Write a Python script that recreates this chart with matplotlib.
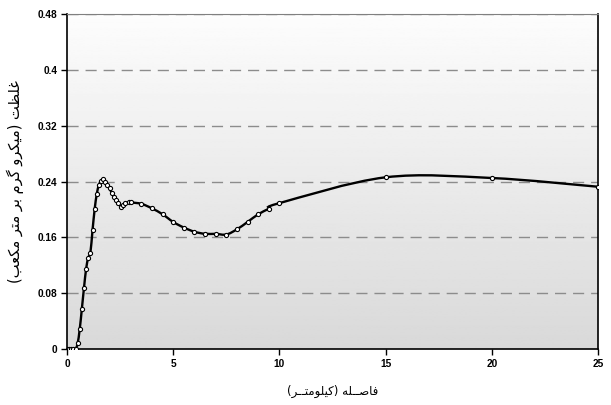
import matplotlib
matplotlib.use('Agg')
import matplotlib.pyplot as plt
import numpy as np
from matplotlib.path import Path
from matplotlib.patches import PathPatch

# Data
fasele = [0.0, 0.1, 0.2, 0.3, 0.4, 0.5, 0.6, 0.7, 0.8, 0.9, 1.0, 1.1, 1.2, 1.3, 1.4,
          1.5, 1.6, 1.7, 1.8, 1.9, 2.0, 2.1, 2.2, 2.3, 2.4, 2.55, 2.65, 2.75, 2.9, 3.0,
          3.5, 4.0, 4.5, 5.0, 5.5, 6.0, 6.5, 7.0, 7.5, 8.0, 8.5, 9.0, 9.5, 10.0,
          15.0, 20.0, 25.0]
gholzat = [0.0, 0.0, 0.0, 0.0, 0.0, 0.008, 0.029, 0.058, 0.088, 0.115, 0.131, 0.138,
           0.170, 0.200, 0.222, 0.235, 0.241, 0.243, 0.240, 0.235, 0.230, 0.224, 0.218,
           0.213, 0.209, 0.204, 0.206, 0.209, 0.210, 0.210, 0.208, 0.2015, 0.193, 0.182,
           0.174, 0.168, 0.165, 0.165, 0.164, 0.1715, 0.182, 0.193, 0.201, 0.209,
           0.246, 0.245, 0.2325]
xticks = [0, 5, 10, 15, 20, 25]
yticks = [0, 0.08, 0.16, 0.24, 0.32, 0.4, 0.48]
ytick_labels = ['0', '0.08', '0.16', '0.24', '0.32', '0.4', '0.48']
xlabel = 'فاصــله (کیلومتــر)'
ylabel = 'غلظت (میکرو گرم بر متر مکعب)'

# simple arabic/persian shaping (matplotlib has no RTL layout)
forms = {  # isolated, final, initial, medial
    'ا': ('\uFE8D', '\uFE8E', None, None),
    'ب': ('\uFE8F', '\uFE90', '\uFE91', '\uFE92'),
    'ت': ('\uFE95', '\uFE96', '\uFE97', '\uFE98'),
    'ر': ('\uFEAD', '\uFEAE', None, None),
    'ص': ('\uFEB9', '\uFEBA', '\uFEBB', '\uFEBC'),
    'ظ': ('\uFEC5', '\uFEC6', '\uFEC7', '\uFEC8'),
    'ع': ('\uFEC9', '\uFECA', '\uFECB', '\uFECC'),
    'غ': ('\uFECD', '\uFECE', '\uFECF', '\uFED0'),
    'ف': ('\uFED1', '\uFED2', '\uFED3', '\uFED4'),
    'ل': ('\uFEDD', '\uFEDE', '\uFEDF', '\uFEE0'),
    'م': ('\uFEE1', '\uFEE2', '\uFEE3', '\uFEE4'),
    'ه': ('\uFEE9', '\uFEEA', '\uFEEB', '\uFEEC'),
    'و': ('\uFEED', '\uFEEE', None, None),
    'ک': ('\uFB8E', '\uFB8F', '\uFB90', '\uFB91'),
    'گ': ('\uFB92', '\uFB93', '\uFB94', '\uFB95'),
    'ی': ('\uFBFC', '\uFBFD', '\uFBFE', '\uFBFF'),
}


def dual(c):
    return c == 'ـ' or (c in forms and forms[c][2] is not None)


def joins(c):
    return c == 'ـ' or c in forms


def shape(s):
    out = []
    for i, c in enumerate(s):
        if c not in forms:
            out.append(c)
            continue
        p = i > 0 and dual(s[i - 1])
        n = dual(c) and i + 1 < len(s) and joins(s[i + 1])
        f = forms[c]
        if p and n:
            out.append(f[3])
        elif p:
            out.append(f[1])
        elif n:
            out.append(f[2])
        else:
            out.append(f[0])
    vis = ''.join(reversed(out))
    return vis.translate(str.maketrans('()', ')('))


def smooth_path(xs, ys):
    pts = np.column_stack([xs, ys])
    verts = [pts[0]]
    codes = [Path.MOVETO]
    n = len(pts)
    for i in range(n - 1):
        p0 = pts[max(i - 1, 0)]
        p1 = pts[i]
        p2 = pts[i + 1]
        p3 = pts[min(i + 2, n - 1)]
        verts += [p1 + (p2 - p0) / 6, p2 - (p3 - p1) / 6, p2]
        codes += [Path.CURVE4] * 3
    return Path(verts, codes)


fig = plt.figure(figsize=(6.11, 4.05), dpi=100)
ax = fig.add_axes([0.1097, 0.1383, 0.8690, 0.8271])
ax.set_xlim(0, 25)
ax.set_ylim(0, 0.48)

# gradient background
grad = np.linspace(0.85, 0.99, 256).reshape(-1, 1)
ax.imshow(grad, cmap='gray', vmin=0, vmax=1, origin='lower', aspect='auto',
          extent=(0, 25, 0, 0.48), zorder=0)

for yv in yticks[1:]:
    ax.axhline(yv, color='#8c8c8c', lw=1, ls=(0, (8, 5)), zorder=1)

ax.add_patch(PathPatch(smooth_path(fasele, gholzat), fill=False, ec='black',
                       lw=1.7, zorder=3))
ax.plot(fasele, gholzat, ls='none', marker='o', ms=3.0, mfc='white', mec='black',
        mew=0.8, zorder=4)

ax.set_xticks(xticks)
ax.set_yticks(yticks)
ax.set_yticklabels(ytick_labels)
for lab in ax.get_xticklabels() + ax.get_yticklabels():
    lab.set_fontfamily('Liberation Sans')
    lab.set_fontweight('bold')
    lab.set_fontsize(7.3)
ax.tick_params(direction='out', length=4, width=1, color='black', pad=3)

for s in ['left', 'bottom', 'right']:
    ax.spines[s].set_color('black')
    ax.spines[s].set_linewidth(1.2)
ax.spines['top'].set_color('#808080')

ax.set_xlabel(shape(xlabel), family=['DejaVu Sans'], fontsize=8.5, labelpad=12)
ax.set_ylabel(shape(ylabel), family=['DejaVu Sans'], fontsize=10.5, labelpad=10)

fig.savefig('out.png', dpi=100)
